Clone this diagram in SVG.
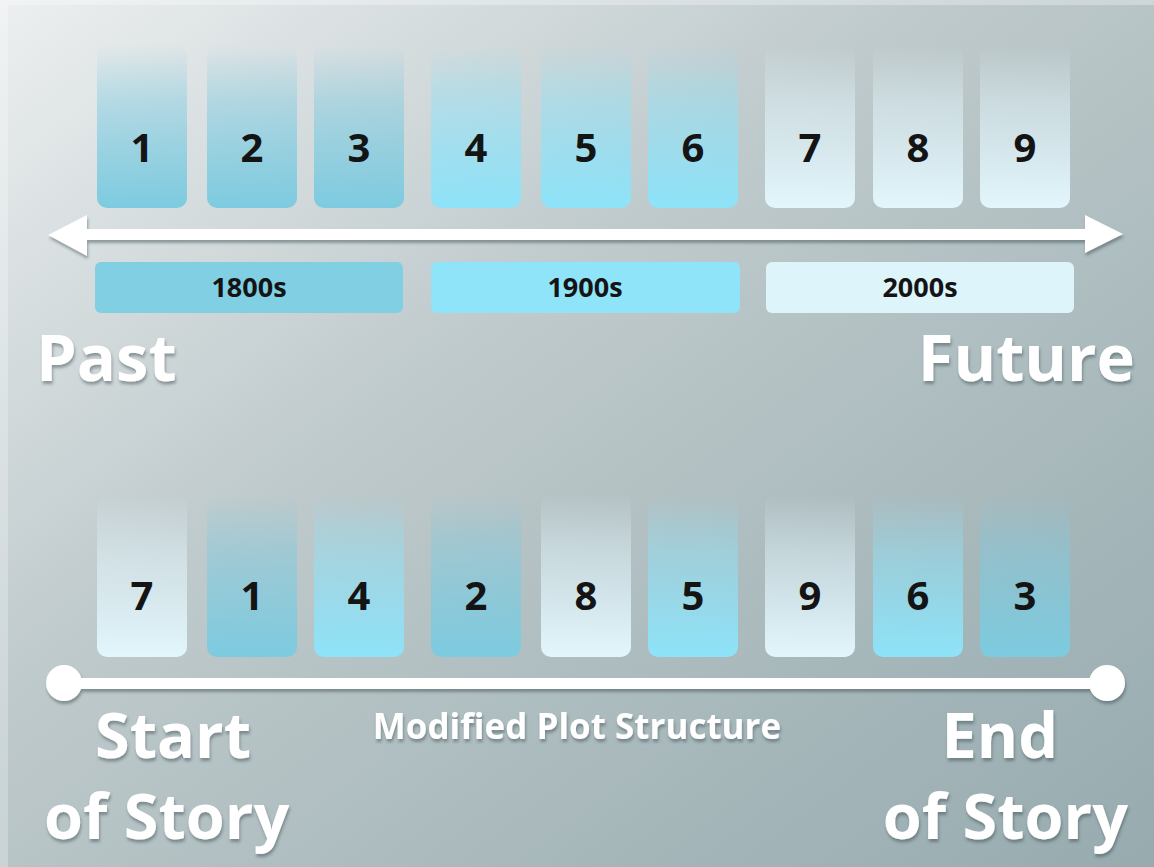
<svg xmlns="http://www.w3.org/2000/svg" width="1154" height="867" viewBox="0 0 1154 867">
<defs>
  <linearGradient id="bg" x1="0" y1="0" x2="1" y2="1">
    <stop offset="0" stop-color="#eceff0"/>
    <stop offset="0.4" stop-color="#bfcacc"/>
    <stop offset="0.75" stop-color="#a6b7ba"/>
    <stop offset="1" stop-color="#97abaf"/>
  </linearGradient>
  <linearGradient id="gA" x1="0" y1="0" x2="0" y2="1">
    <stop offset="0" stop-color="#7dcbe0" stop-opacity="0"/>
    <stop offset="0.35" stop-color="#7dcbe0" stop-opacity="0.45"/>
    <stop offset="1" stop-color="#7dcbe0" stop-opacity="1"/>
  </linearGradient>
  <linearGradient id="gB" x1="0" y1="0" x2="0" y2="1">
    <stop offset="0" stop-color="#8ee3f9" stop-opacity="0"/>
    <stop offset="0.35" stop-color="#8ee3f9" stop-opacity="0.45"/>
    <stop offset="1" stop-color="#8ee3f9" stop-opacity="1"/>
  </linearGradient>
  <linearGradient id="gC" x1="0" y1="0" x2="0" y2="1">
    <stop offset="0" stop-color="#e2f6fc" stop-opacity="0"/>
    <stop offset="0.35" stop-color="#e2f6fc" stop-opacity="0.45"/>
    <stop offset="1" stop-color="#e2f6fc" stop-opacity="1"/>
  </linearGradient>
  <filter id="sh" x="-10%" y="-20%" width="120%" height="160%">
    <feDropShadow dx="1" dy="3" stdDeviation="1.8" flood-color="#33454b" flood-opacity="0.45"/>
  </filter>
  <style>
    .num { font-family: "Open Sans", "Liberation Sans", sans-serif; font-weight: 700; font-size: 40px; fill: #141414; text-anchor: middle; }
    .per { font-family: "Open Sans", "Liberation Sans", sans-serif; font-weight: 700; font-size: 27px; fill: #141414; text-anchor: middle; }
    .big { font-family: "Open Sans", "Liberation Sans", sans-serif; font-weight: 700; fill: #ffffff; filter: url(#sh); }
    .A { fill: url(#gA); }
    .B { fill: url(#gB); }
    .C { fill: url(#gC); }
  </style>
</defs>

<rect x="0" y="0" width="1154" height="867" fill="url(#bg)"/>
<rect x="0" y="0" width="8" height="867" fill="#ffffff" opacity="0.25"/>
<rect x="8" y="0" width="1146" height="5" fill="#ffffff" opacity="0.3"/>

<!-- top row -->
<g id="top-1"><rect class="A" x="97" y="45" width="90" height="163" rx="10"/><text class="num" x="142" y="162">1</text></g>
<g id="top-2"><rect class="A" x="207" y="45" width="90" height="163" rx="10"/><text class="num" x="252" y="162">2</text></g>
<g id="top-3"><rect class="A" x="314" y="45" width="90" height="163" rx="10"/><text class="num" x="359" y="162">3</text></g>
<g id="top-4"><rect class="B" x="431" y="45" width="90" height="163" rx="10"/><text class="num" x="476" y="162">4</text></g>
<g id="top-5"><rect class="B" x="541" y="45" width="90" height="163" rx="10"/><text class="num" x="586" y="162">5</text></g>
<g id="top-6"><rect class="B" x="648" y="45" width="90" height="163" rx="10"/><text class="num" x="693" y="162">6</text></g>
<g id="top-7"><rect class="C" x="765" y="45" width="90" height="163" rx="10"/><text class="num" x="810" y="162">7</text></g>
<g id="top-8"><rect class="C" x="873" y="45" width="90" height="163" rx="10"/><text class="num" x="918" y="162">8</text></g>
<g id="top-9"><rect class="C" x="980" y="45" width="90" height="163" rx="10"/><text class="num" x="1025" y="162">9</text></g>

<!-- connectors -->
<g id="connectors" fill="#ffffff" filter="url(#sh)">
  <path d="M48,235 L87,215 L87,229 L1085,229 L1085,215 L1123,234 L1085,253 L1085,240 L87,240 L87,256 Z"/>
  <rect x="63" y="678" width="1044" height="11"/>
  <circle cx="64" cy="683" r="18"/>
  <circle cx="1107" cy="683" r="18"/>
</g>

<!-- period bars -->
<g id="p1800"><rect x="95" y="262" width="308" height="51" rx="6" fill="#80cfe3"/><text class="per" x="249" y="297">1800s</text></g>
<g id="p1900"><rect x="431" y="262" width="309" height="51" rx="6" fill="#90e4f9"/><text class="per" x="585" y="297">1900s</text></g>
<g id="p2000"><rect x="766" y="262" width="308" height="51" rx="6" fill="#def4fb"/><text class="per" x="920" y="297">2000s</text></g>

<g id="past"><text class="big" x="36" y="381" font-size="65">Past</text></g>
<g id="future"><text class="big" x="1135" y="381" font-size="65" text-anchor="end">Future</text></g>

<!-- bottom row -->
<g id="bot-7"><rect class="C" x="97" y="495" width="90" height="162" rx="10"/><text class="num" x="142" y="610">7</text></g>
<g id="bot-1"><rect class="A" x="207" y="495" width="90" height="162" rx="10"/><text class="num" x="252" y="610">1</text></g>
<g id="bot-4"><rect class="B" x="314" y="495" width="90" height="162" rx="10"/><text class="num" x="359" y="610">4</text></g>
<g id="bot-2"><rect class="A" x="431" y="495" width="90" height="162" rx="10"/><text class="num" x="476" y="610">2</text></g>
<g id="bot-8"><rect class="C" x="541" y="495" width="90" height="162" rx="10"/><text class="num" x="586" y="610">8</text></g>
<g id="bot-5"><rect class="B" x="648" y="495" width="90" height="162" rx="10"/><text class="num" x="693" y="610">5</text></g>
<g id="bot-9"><rect class="C" x="765" y="495" width="90" height="162" rx="10"/><text class="num" x="810" y="610">9</text></g>
<g id="bot-6"><rect class="B" x="873" y="495" width="90" height="162" rx="10"/><text class="num" x="918" y="610">6</text></g>
<g id="bot-3"><rect class="A" x="980" y="495" width="90" height="162" rx="10"/><text class="num" x="1025" y="610">3</text></g>

<g id="start"><text class="big" font-size="63"><tspan x="95" y="758">Start</tspan><tspan x="44" y="839">of Story</tspan></text></g>
<g id="end"><text class="big" font-size="63" text-anchor="end"><tspan x="1058" y="758">End</tspan><tspan x="1128" y="839">of Story</tspan></text></g>
<g id="caption"><text class="big" x="577" y="739" font-size="35" text-anchor="middle">Modified Plot Structure</text></g>
</svg>
